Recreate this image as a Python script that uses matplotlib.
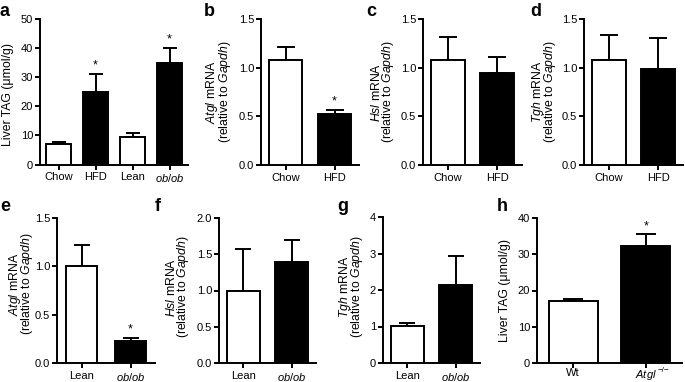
import matplotlib
matplotlib.use('Agg')
import matplotlib.pyplot as plt
import numpy as np

plt.rcParams['font.family'] = ['Liberation Sans', 'DejaVu Sans']
plt.rcParams['mathtext.fontset'] = 'custom'
plt.rcParams['mathtext.rm'] = 'Liberation Sans'
plt.rcParams['mathtext.it'] = 'Liberation Sans:italic'
plt.rcParams['mathtext.bf'] = 'Liberation Sans:bold'

# ---------------- data ----------------
a_cats = ['Chow', 'HFD', 'Lean', r'$\it{ob/ob}$']
a_mean = [7.0, 25.0, 9.5, 35.0]
a_sem = [0.8, 6.2, 1.2, 5.1]
a_star = [False, True, False, True]
a_fill = ['white', 'black', 'white', 'black']

b_cats = ['Chow', 'HFD']
b_mean = [1.08, 0.52]
b_sem = [0.13, 0.05]
b_star = [False, True]

c_cats = ['Chow', 'HFD']
c_mean = [1.08, 0.95]
c_sem = [0.24, 0.16]
c_star = [False, False]

d_cats = ['Chow', 'HFD']
d_mean = [1.08, 0.99]
d_sem = [0.26, 0.31]
d_star = [False, False]

e_cats = ['Lean', r'$\it{ob/ob}$']
e_mean = [1.00, 0.23]
e_sem = [0.22, 0.03]
e_star = [False, True]

f_cats = ['Lean', r'$\it{ob/ob}$']
f_mean = [1.00, 1.40]
f_sem = [0.57, 0.30]
f_star = [False, False]

g_cats = ['Lean', r'$\it{ob/ob}$']
g_mean = [1.02, 2.13]
g_sem = [0.08, 0.79]
g_star = [False, False]

h_cats = ['Wt', r'$\it{Atgl}$']
h_sup = ['', '\u2212/\u2212']   # genotype superscript on the category label
h_mean = [17.0, 32.4]
h_sem = [0.7, 3.1]
h_star = [False, True]

two_fill = ['white', 'black']

tag_label = 'Liver TAG (\u03bcmol/g)'
def mrna_label(gene):
    return r'$\it{' + gene + r'}$ mRNA' + '\n' + r'(relative to $\it{Gapdh}$)'

# ---------------- layout (pixels) ----------------
W, H = 685, 382
fig = plt.figure(figsize=(W / 100, H / 100), dpi=100)

LW = 1.4

panels = [
    # letter, cats, mean, sem, star, fill, ymax, yticks, fmt, ylabel,
    # (left, zero_y, right, top_y), bar width, cap, label x centre, label y centre, letter xy, sups, xpad
    ('a', a_cats, a_mean, a_sem, a_star, a_fill, 50, [0, 10, 20, 30, 40, 50], None, tag_label,
     (40, 164.5, 188, 19), 0.68, 9.5, 8.5, 95, (0, 3), None, 2.0),
    ('b', b_cats, b_mean, b_sem, b_star, two_fill, 1.5, [0, 0.5, 1.0, 1.5], '%.1f', mrna_label('Atgl'),
     (261, 165, 359, 19), 0.68, 13, 218.5, 92, (204, 3), None, 2.0),
    ('c', c_cats, c_mean, c_sem, c_star, two_fill, 1.5, [0, 0.5, 1.0, 1.5], '%.1f', mrna_label('Hsl'),
     (423, 165, 522, 19), 0.68, 13, 383, 92, (366, 3), None, 2.0),
    ('d', d_cats, d_mean, d_sem, d_star, two_fill, 1.5, [0, 0.5, 1.0, 1.5], '%.1f', mrna_label('Tgh'),
     (584, 165, 683, 19), 0.68, 13, 544, 92, (530, 3), None, 2.0),
    ('e', e_cats, e_mean, e_sem, e_star, two_fill, 1.5, [0, 0.5, 1.0, 1.5], '%.1f', mrna_label('Atgl'),
     (57, 363, 155, 218), 0.63, 12, 21.0, 284, (0, 198), None, 2.0),
    ('f', f_cats, f_mean, f_sem, f_star, two_fill, 2.0, [0, 0.5, 1.0, 1.5, 2.0], '%.1f', mrna_label('Hsl'),
     (219, 363, 316, 218), 0.69, 12, 178, 287, (155, 198), None, 2.0),
    ('g', g_cats, g_mean, g_sem, g_star, two_fill, 4, [0, 1, 2, 3, 4], None, mrna_label('Tgh'),
     (383, 363, 480, 217), 0.69, 12, 351, 287, (337, 198), None, 2.0),
    ('h', h_cats, h_mean, h_sem, h_star, two_fill, 40, [0, 10, 20, 30, 40], None, tag_label,
     (537, 363, 682, 218), 0.68, 15, 505, 290, (497, 198), h_sup, 0.3),
]

sup_jobs = []
for (letter, cats, mean, sem, star, fill, ymax, yticks, fmt, ylabel,
     box, bw, cap, lab_x, lab_y, lxy, sups, xpad) in panels:
    left, zero_y, right, top_y = box
    ax = fig.add_axes([left / W, (H - zero_y) / H, (right - left) / W, (zero_y - top_y) / H])
    n = len(cats)
    x = np.arange(n)
    ax.bar(x, mean, width=bw, color=fill, edgecolor='black', linewidth=LW, zorder=3)
    ax.errorbar(x, mean, yerr=[np.zeros(n), sem], fmt='none', ecolor='black',
                elinewidth=LW, capsize=cap / 2, capthick=LW, zorder=2)
    for xi, m, s, st in zip(x, mean, sem, star):
        if st:
            ax.annotate('*', (xi, m + s), xytext=(0, 1.5), textcoords='offset points',
                        ha='center', va='bottom', fontsize=9)
    ax.set_xlim(-0.5, n - 0.5)
    ax.set_ylim(0, ymax)
    ax.set_yticks(yticks)
    if fmt:
        ax.set_yticklabels([fmt % t for t in yticks])
    ax.set_xticks(x)
    ax.set_xticklabels(cats)
    for sp in ['top', 'right']:
        ax.spines[sp].set_visible(False)
    for sp in ['left', 'bottom']:
        ax.spines[sp].set_linewidth(LW)
    ax.tick_params(axis='both', direction='out', length=3.5, width=LW, labelsize=8, pad=1.5)
    ax.tick_params(axis='x', pad=xpad)
    if sups:
        sup_jobs.append((ax, sups))
    fig.text(lab_x / W, 1 - lab_y / H, ylabel, rotation=90,
             ha='center', va='center', fontsize=8.8, linespacing=0.72)
    fig.text(lxy[0] / W, 1 - lxy[1] / H, letter, ha='left', va='top',
             fontsize=13, fontweight='bold')

# superscripts placed next to their category labels
fig.canvas.draw()
renderer = fig.canvas.get_renderer()
for ax, sups in sup_jobs:
    for tl, sup in zip(ax.get_xticklabels(), sups):
        if sup:
            bb = tl.get_window_extent(renderer)
            fig.text((bb.x1 + 0.5) / W, (bb.y1 + 1.0) / H, sup, ha='left', va='top',
                     fontsize=5.8)

fig.savefig('out.png', dpi=100)
